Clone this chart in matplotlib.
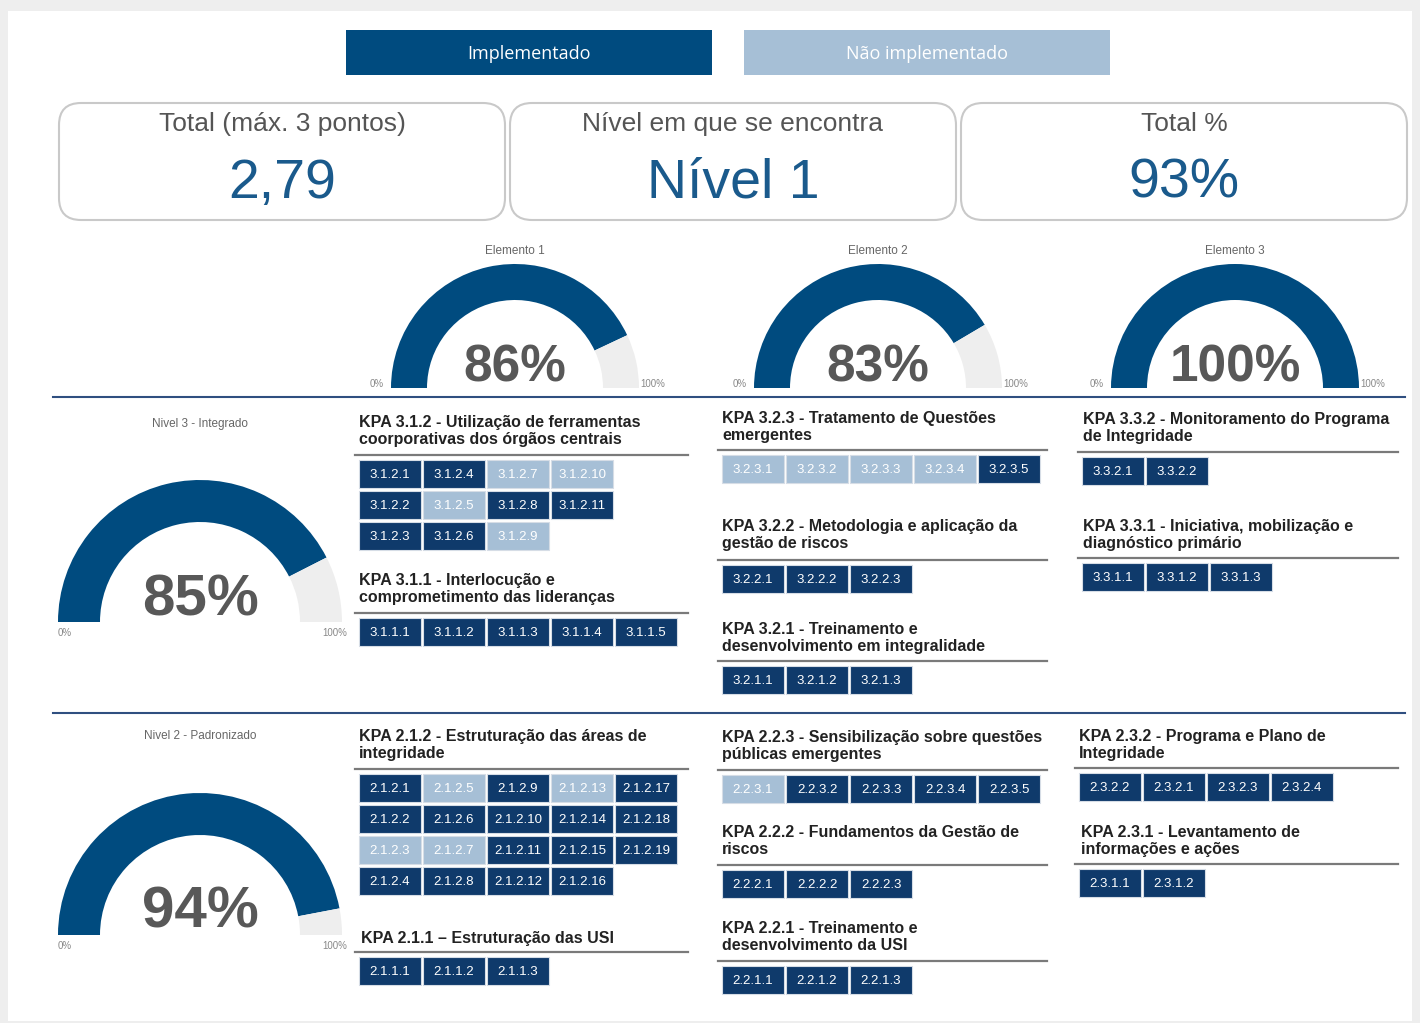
import matplotlib
matplotlib.use('Agg')
from matplotlib import pyplot as plt
from matplotlib.patches import Wedge, Rectangle, FancyBboxPatch

# ---- data ---------------------------------------------------------------------------------
legend_labels = ['Implementado', 'Não implementado']

card_titles = ['Total (máx. 3 pontos)', 'Nível em que se encontra', 'Total %']
card_values = ['2,79', 'Nível 1', '93%']

element_names = ['Elemento 1', 'Elemento 2', 'Elemento 3']
element_pct = [86, 83, 100]

level_names = ['Nivel 3 - Integrado', 'Nivel 2 - Padronizado']
level_pct = [85, 94]

# KPA blocks: title, item codes, items not implemented, rows in the grid
kpa_titles = [
    'KPA 3.1.2 - Utilização de ferramentas\ncoorporativas dos órgãos centrais',
    'KPA 3.1.1 - Interlocução e\ncomprometimento das lideranças',
    'KPA 3.2.3 - Tratamento de Questões\nemergentes',
    'KPA 3.2.2 - Metodologia e aplicação da\ngestão de riscos',
    'KPA 3.2.1 - Treinamento e\ndesenvolvimento em integralidade',
    'KPA 3.3.2 - Monitoramento do Programa\nde Integridade',
    'KPA 3.3.1 - Iniciativa, mobilização e\ndiagnóstico primário',
    'KPA 2.1.2 - Estruturação das áreas de\nintegridade',
    'KPA 2.1.1 – Estruturação das USI',
    'KPA 2.2.3 - Sensibilização sobre questões\npúblicas emergentes',
    'KPA 2.2.2 - Fundamentos da Gestão de\nriscos',
    'KPA 2.2.1 - Treinamento e\ndesenvolvimento da USI',
    'KPA 2.3.2 - Programa e Plano de\nIntegridade',
    'KPA 2.3.1 - Levantamento de\ninformações e ações',
]
kpa_items = [
    ['3.1.2.%d' % i for i in range(1, 12)],
    ['3.1.1.1', '3.1.1.2', '3.1.1.3', '3.1.1.4', '3.1.1.5'],
    ['3.2.3.1', '3.2.3.2', '3.2.3.3', '3.2.3.4', '3.2.3.5'],
    ['3.2.2.1', '3.2.2.2', '3.2.2.3'],
    ['3.2.1.1', '3.2.1.2', '3.2.1.3'],
    ['3.3.2.1', '3.3.2.2'],
    ['3.3.1.1', '3.3.1.2', '3.3.1.3'],
    ['2.1.2.%d' % i for i in range(1, 20)],
    ['2.1.1.1', '2.1.1.2', '2.1.1.3'],
    ['2.2.3.1', '2.2.3.2', '2.2.3.3', '2.2.3.4', '2.2.3.5'],
    ['2.2.2.1', '2.2.2.2', '2.2.2.3'],
    ['2.2.1.1', '2.2.1.2', '2.2.1.3'],
    ['2.3.2.2', '2.3.2.1', '2.3.2.3', '2.3.2.4'],
    ['2.3.1.1', '2.3.1.2'],
]
not_implemented = ['3.1.2.5', '3.1.2.7', '3.1.2.9', '3.1.2.10',
                   '3.2.3.1', '3.2.3.2', '3.2.3.3', '3.2.3.4',
                   '2.1.2.3', '2.1.2.5', '2.1.2.7', '2.1.2.13',
                   '2.2.3.1']
kpa_rows = [3, 1, 1, 1, 1, 1, 1, 4, 1, 1, 1, 1, 1, 1]

# ---- layout (pixels) --------------------------------------------------------------------
kpa_pos = [(359, 431), (359, 589), (722, 427), (722, 535), (722, 638), (1083, 428), (1083, 535),
           (359, 745), (361, 938), (722, 746), (722, 841), (722, 937), (1079, 745), (1081, 841)]
kpa_line = [(355, 688, 455), (355, 688, 613), (718, 1047, 450), (718, 1047, 560), (718, 1047, 661),
            (1078, 1398, 452), (1078, 1398, 558), (355, 688, 769), (355, 688, 952), (718, 1047, 770),
            (718, 1047, 865), (718, 1047, 961), (1075, 1398, 768), (1075, 1398, 864)]

DARK = '#0f3a6b'
LIGHT = '#a6bfd6'
GAUGE = '#004b7f'
GAUGE_BG = '#eeeeee'
VAL_GRAY = '#585858'

plt.rcParams['font.family'] = ['Liberation Sans', 'DejaVu Sans']
fig = plt.figure(figsize=(14.2, 10.23), dpi=100, facecolor='#eeeeee')
ax = fig.add_axes([0, 0, 1, 1])
ax.set_xlim(0, 1420)
ax.set_ylim(1023, 0)
ax.axis('off')

ax.add_patch(Rectangle((8, 11), 1404, 1010, facecolor='white', edgecolor='none'))

# legend boxes
for i, lab in enumerate(legend_labels):
    x0 = 346 + i * 398
    ax.add_patch(Rectangle((x0, 30), 366, 45, facecolor=[GAUGE, LIGHT][i], edgecolor='none'))
    ax.text(x0 + 183, 54, lab, color='white', fontsize=13, ha='center', va='center',
            family=['Open Sans', 'DejaVu Sans'])

# KPI cards
for i in range(3):
    x0 = 59 + i * 451
    ax.add_patch(FancyBboxPatch((x0, 103), 446, 117, boxstyle='round,pad=0,rounding_size=22',
                                facecolor='white', edgecolor='#c9c9c9', lw=1.5))
    ax.text(x0 + 223, 124, card_titles[i], color='#555555', fontsize=19, ha='center', va='center')
    ax.text(x0 + 223, 198, card_values[i], color='#1a5a8c', fontsize=40, ha='center', va='baseline')


def gauge(cx, cy, r_out, r_in, pct, title, ty, fs_val, fs_small, lx, ly):
    split = 180 + 180 * pct / 100
    ax.add_patch(Wedge((cx, cy), r_out, 180, split, width=r_out - r_in, facecolor=GAUGE, edgecolor='none'))
    if pct < 100:
        ax.add_patch(Wedge((cx, cy), r_out, split, 360, width=r_out - r_in, facecolor=GAUGE_BG,
                           edgecolor='none'))
    ax.text(cx, cy - 7, '%d%%' % pct, color=VAL_GRAY, fontsize=fs_val, fontweight='bold',
            ha='center', va='baseline')
    ax.text(cx, ty, title, color='#666666', fontsize=8.5, ha='center', va='center')
    ax.text(cx - lx, ly, '0%', color='#888888', fontsize=fs_small, ha='center', va='center')
    ax.text(cx + lx, ly, '100%', color='#888888', fontsize=fs_small, ha='center', va='center')


for i, pct in enumerate(element_pct):
    cx = [515, 878, 1235][i]
    gauge(cx, 388, 124, 88, pct, element_names[i], 251, 37, 7, 138, 384)

for i, pct in enumerate(level_pct):
    cy = [622, 935][i]
    gauge(200, cy, 142, 100, pct, level_names[i], [424, 736][i], 42, 7, 135, cy + 11)

# separators
for y in (397, 713):
    ax.plot([53, 1405], [y, y], color='#2f4f80', lw=1.5)

# KPA blocks
TW, TH, PX, PY = 62, 28, 64, 31
for k, title in enumerate(kpa_titles):
    tx, ty = kpa_pos[k]
    ax.text(tx, ty, title, color='#222222', fontsize=11.5, fontweight='bold', ha='left', va='center',
            linespacing=1.1)
    x1, x2, ly = kpa_line[k]
    ax.plot([x1, x2], [ly, ly], color='#7a7a7a', lw=1.6)
    nr = kpa_rows[k]
    for j, code in enumerate(kpa_items[k]):
        col, row = j // nr, j % nr
        bx = x1 + 4 + col * PX
        by = ly + 5 + row * PY
        fc = LIGHT if code in not_implemented else DARK
        ax.add_patch(Rectangle((bx, by), TW, TH, facecolor=fc, edgecolor='#d6dde6', lw=0.8))
        ax.text(bx + TW / 2, by + TH / 2 + 1, code, color='white', fontsize=9.5, ha='center', va='center')

plt.savefig('out.png', dpi=100, facecolor=fig.get_facecolor())
